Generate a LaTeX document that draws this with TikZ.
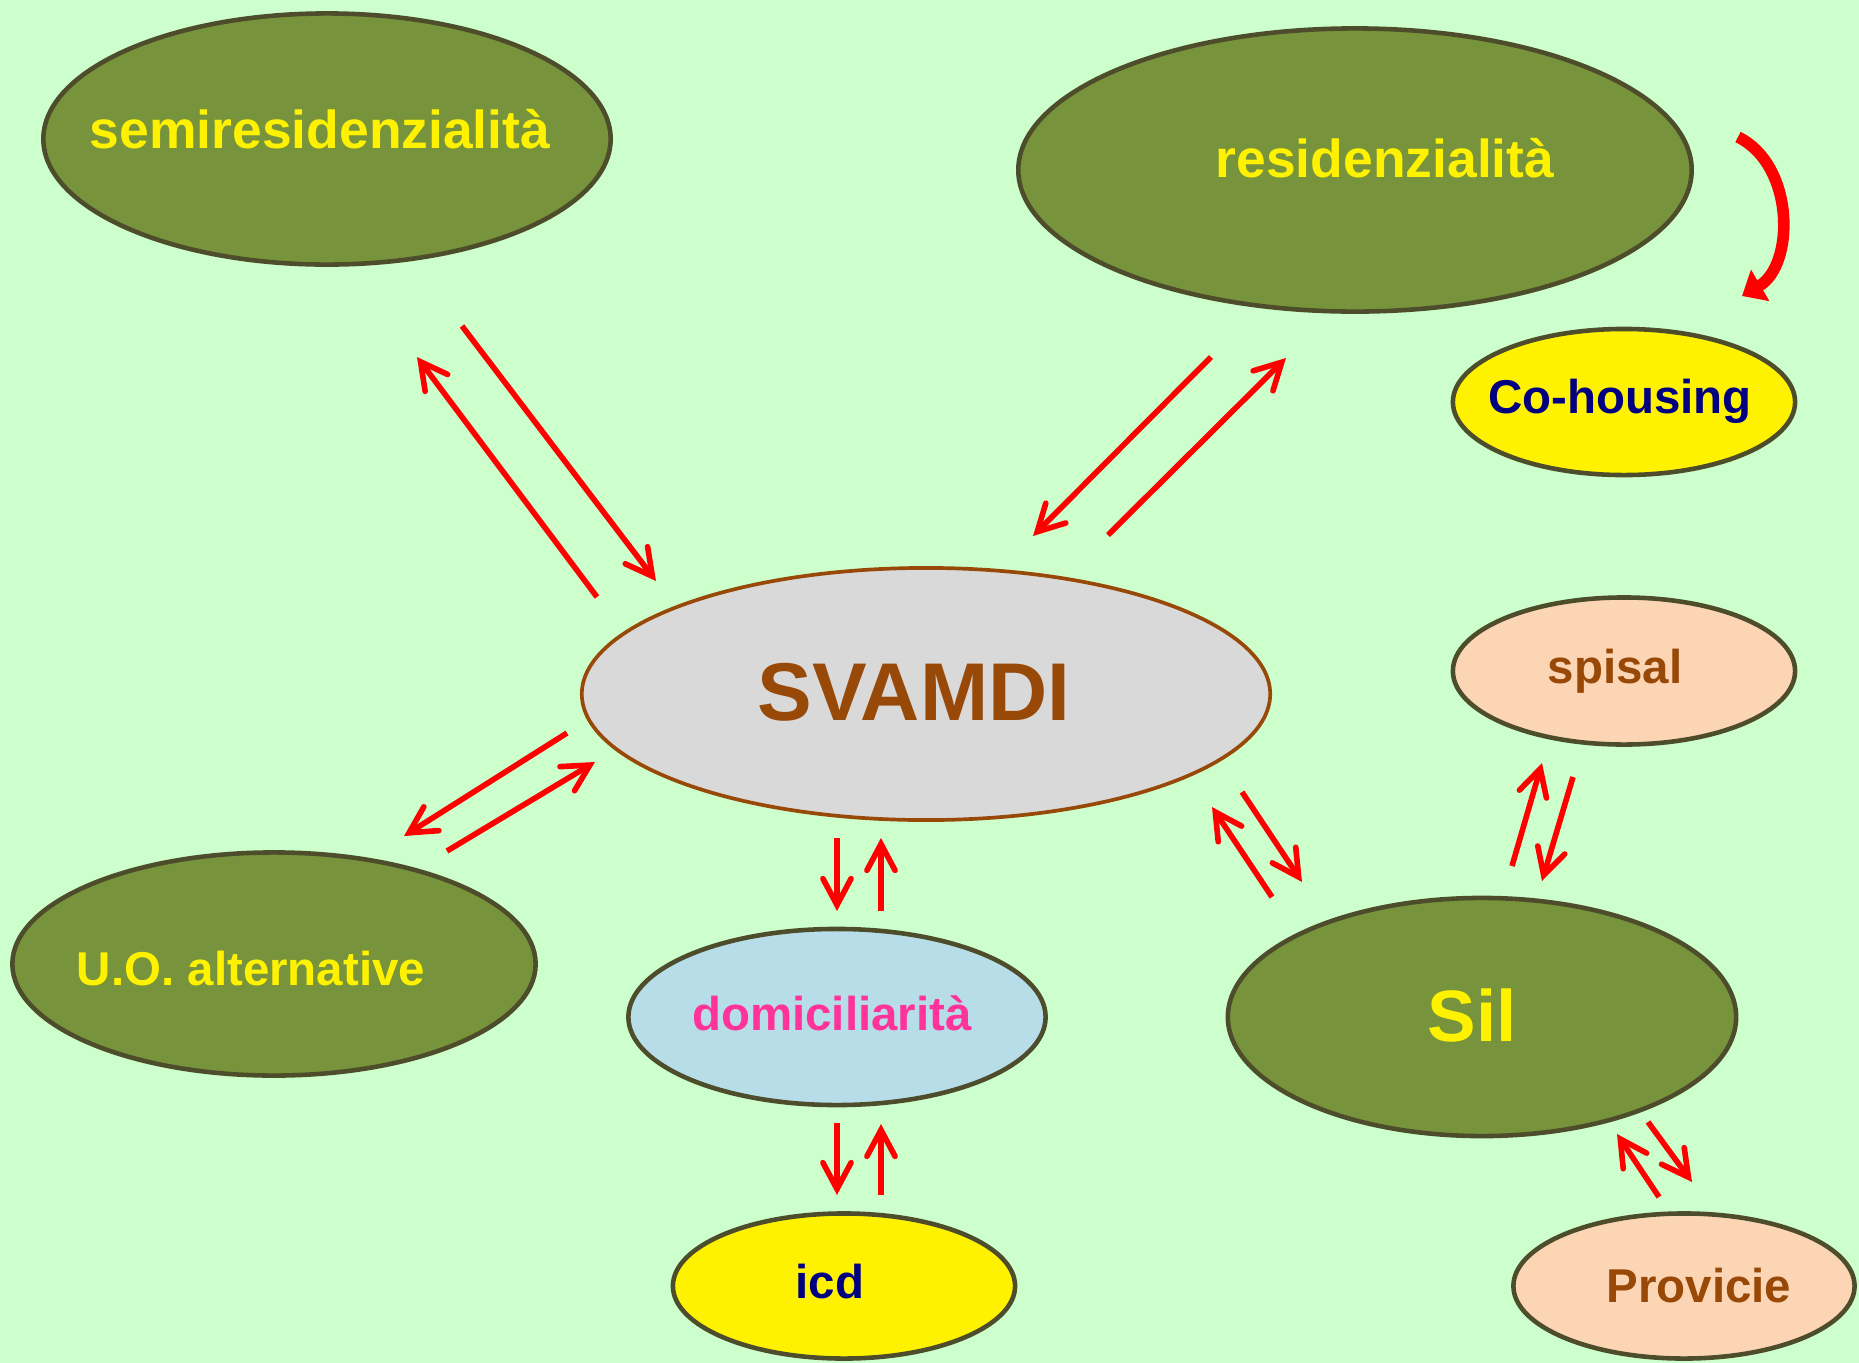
\documentclass[tikz,border=0pt]{standalone}
\usepackage{fontspec}
\setmainfont{Liberation Sans}
\usetikzlibrary{shapes.geometric,arrows.meta,calc}

\definecolor{bgmint}{HTML}{CCFFCC}
\definecolor{olive}{HTML}{77933C}
\definecolor{rim}{HTML}{4D4D2B}
\definecolor{rust}{HTML}{984807}
\definecolor{greyfill}{HTML}{D9D9D9}
\definecolor{peach}{HTML}{FCD5B5}
\definecolor{skyfill}{HTML}{B7DEE8}
\definecolor{pinktext}{HTML}{FF3399}
\definecolor{navy}{HTML}{000080}

\begin{document}
\begin{tikzpicture}[
    x=0.01cm, y=-0.01cm,
    ell/.style={ellipse, draw=rim, line width=1.3pt, inner sep=0pt},
    green/.style={ell, fill=olive},
    lbl/.style={anchor=base, inner sep=0pt, font=\fontsize{13.5}{16}\selectfont\bfseries},
    arrow/.style={-{Straight Barb[length=7.5pt, width=8pt, line cap=round]}, draw=red, line width=1.6pt}
]
\fill[bgmint] (0,0) rectangle (1859,1363);

% ellipses
\node[green, minimum width=5.67cm, minimum height=2.51cm] (semi) at (327,139) {};
\node[green, minimum width=6.73cm, minimum height=2.83cm] (resid) at (1355,170) {};
\node[ell, fill=yellow, minimum width=3.42cm, minimum height=1.46cm] (cohous) at (1624,402) {};
\node[ell, draw=rust, line width=1.05pt, fill=greyfill, minimum width=6.88cm, minimum height=2.52cm] (svamdi) at (926,694) {};
\node[ell, fill=peach, minimum width=3.42cm, minimum height=1.47cm] (spisal) at (1624,671) {};
\node[green, minimum width=5.23cm, minimum height=2.23cm] (uo) at (274,964) {};
\node[ell, fill=skyfill, minimum width=4.17cm, minimum height=1.76cm] (domic) at (837,1017) {};
\node[green, minimum width=5.08cm, minimum height=2.38cm] (sil) at (1482,1017) {};
\node[ell, fill=yellow, minimum width=3.42cm, minimum height=1.45cm] (icd) at (844,1286) {};
\node[ell, fill=peach, minimum width=3.41cm, minimum height=1.45cm] (prov) at (1684,1286) {};

% labels
\node[lbl, yellow, font=\fontsize{15.2}{18}\selectfont\bfseries] (semi-t) at ($(semi)+(-7,9)$) {semiresidenzialità};
\node[lbl, yellow, font=\fontsize{15.2}{18}\selectfont\bfseries] (resid-t) at ($(resid)+(30,7)$) {residenzialità};
\node[lbl, navy] (cohous-t) at ($(cohous)+(-4,11)$) {Co-housing};
\node[lbl, rust, font=\fontsize{23.3}{28}\selectfont\bfseries] (svamdi-t) at ($(svamdi)+(-12,26)$) {SVAMDI};
\node[lbl, rust] (spisal-t) at ($(spisal)+(-9,12)$) {spisal};
\node[lbl, yellow] (uo-t) at ($(uo)+(-23,21)$) {U.O. alternative};
\node[lbl, pinktext] (domic-t) at ($(domic)+(-5,13)$) {domiciliarità};
\node[lbl, yellow, font=\fontsize{20.7}{24}\selectfont\bfseries] (sil-t) at ($(sil)+(-10,24)$) {Sil};
\node[lbl, navy] (icd-t) at ($(icd)+(-14,12)$) {icd};
\node[lbl, rust] (prov-t) at ($(prov)+(15,16)$) {Provicie};

% arrows
\draw[arrow] ($(semi)+(135,187)$) -- ($(svamdi)+(-270,-113)$);
\draw[arrow] ($(svamdi)+(-329,-97)$) -- ($(semi)+(90,218)$);
\draw[arrow] ($(resid)+(-144,187)$) -- ($(svamdi)+(107,-158)$);
\draw[arrow] ($(svamdi)+(182,-159)$) -- ($(resid)+(-69,188)$);
\draw[arrow] ($(svamdi)+(-359,39)$) -- ($(uo)+(130,-128)$);
\draw[arrow] ($(uo)+(173,-113)$) -- ($(svamdi)+(-331,68)$);
\draw[arrow] ($(svamdi)+(-89,144)$) -- ($(domic)+(0,-106)$);
\draw[arrow] ($(domic)+(44,-106)$) -- ($(svamdi)+(-45,144)$);
\draw[arrow] ($(domic)+(0,106)$) -- ($(icd)+(-7,-91)$);
\draw[arrow] ($(icd)+(37,-91)$) -- ($(domic)+(44,107)$);
\draw[arrow] ($(svamdi)+(316,98)$) -- ($(sil)+(-180,-135)$);
\draw[arrow] ($(sil)+(-210,-120)$) -- ($(svamdi)+(286,113)$);
\draw[arrow] ($(sil)+(30,-151)$) -- ($(spisal)+(-82,92)$);
\draw[arrow] ($(spisal)+(-51,106)$) -- ($(sil)+(60,-136)$);
\draw[arrow] ($(sil)+(166,105)$) -- ($(prov)+(8,-104)$);
\draw[arrow] ($(prov)+(-25,-89)$) -- ($(sil)+(135,117)$);
\draw[red, line width=3.3pt, -{Triangle[length=6pt, width=10pt]}]
    ($(resid)+(383,-33)$) .. controls +(57,28) and +(53,-31) .. ($(cohous)+(118,-106)$);
\end{tikzpicture}
\end{document}
